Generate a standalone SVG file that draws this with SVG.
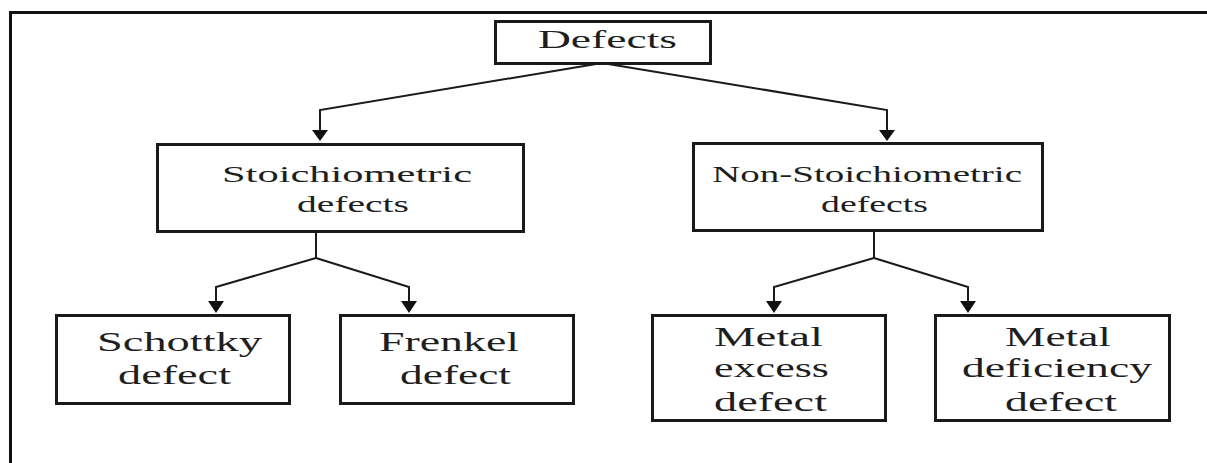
<svg xmlns="http://www.w3.org/2000/svg" width="1207" height="463" viewBox="0 0 1207 463">
<style>
.box{fill:#fff;stroke:#1a1a1a;stroke-width:3}
.conn{fill:none;stroke:#1a1a1a;stroke-width:2}
.head{fill:#111;stroke:none}
text{font-family:"Liberation Serif","Times New Roman",serif;fill:#1e1e1e}
.t26{font-size:26px}
.t24{font-size:24px}
.t27{font-size:27px}
</style>
<rect width="1207" height="463" fill="#fff"/>
<path d="M10.5 463 V12.5 H1207" fill="none" stroke="#111" stroke-width="3"/>
<g id="connectors">
<path class="conn" d="M602 63 L320 110 V131"/>
<path class="conn" d="M602 63 L887 110 V131"/>
<path class="conn" d="M316 231 V258 L216 287 V302"/>
<path class="conn" d="M316 258 L409 287 V302"/>
<path class="conn" d="M874 230 V258 L774 287 V302"/>
<path class="conn" d="M874 258 L968 287 V302"/>
<polygon class="head" points="312,130 328,130 320,141"/>
<polygon class="head" points="879,130 895,130 887,141"/>
<polygon class="head" points="208,301 224,301 216,313"/>
<polygon class="head" points="401,301 417,301 409,313"/>
<polygon class="head" points="766,301 782,301 774,313"/>
<polygon class="head" points="960,301 976,301 968,313"/>
</g>
<g id="defects">
<rect class="box" x="495.5" y="21.5" width="215" height="42"/>
<text class="t26" x="538" y="48" textLength="139" lengthAdjust="spacingAndGlyphs">Defects</text>
</g>
<g id="stoichiometric">
<rect class="box" x="157.5" y="144.5" width="366" height="87"/>
<text class="t24" x="222" y="182" textLength="250" lengthAdjust="spacingAndGlyphs">Stoichiometric</text>
<text class="t24" x="297" y="212" textLength="112" lengthAdjust="spacingAndGlyphs">defects</text>
</g>
<g id="non-stoichiometric">
<rect class="box" x="693.5" y="143.5" width="349" height="87"/>
<text class="t24" x="712" y="182" textLength="310" lengthAdjust="spacingAndGlyphs">Non-Stoichiometric</text>
<text class="t24" x="821" y="212" textLength="107" lengthAdjust="spacingAndGlyphs">defects</text>
</g>
<g id="schottky">
<rect class="box" x="56.5" y="315.5" width="233" height="88"/>
<text class="t27" x="97" y="351" textLength="165" lengthAdjust="spacingAndGlyphs">Schottky</text>
<text class="t27" x="118" y="384" textLength="113" lengthAdjust="spacingAndGlyphs">defect</text>
</g>
<g id="frenkel">
<rect class="box" x="340.5" y="315.5" width="233" height="88"/>
<text class="t27" x="379" y="351" textLength="140" lengthAdjust="spacingAndGlyphs">Frenkel</text>
<text class="t27" x="400" y="384" textLength="111" lengthAdjust="spacingAndGlyphs">defect</text>
</g>
<g id="metal-excess">
<rect class="box" x="652.5" y="315.5" width="233" height="105"/>
<text class="t27" x="714" y="346" textLength="109" lengthAdjust="spacingAndGlyphs">Metal</text>
<text class="t27" x="714" y="377" textLength="115" lengthAdjust="spacingAndGlyphs">excess</text>
<text class="t27" x="714" y="411" textLength="113" lengthAdjust="spacingAndGlyphs">defect</text>
</g>
<g id="metal-deficiency">
<rect class="box" x="935.5" y="315.5" width="234" height="105"/>
<text class="t27" x="1005" y="346" textLength="106" lengthAdjust="spacingAndGlyphs">Metal</text>
<text class="t27" x="962" y="377" textLength="190" lengthAdjust="spacingAndGlyphs">deficiency</text>
<text class="t27" x="1005" y="411" textLength="112" lengthAdjust="spacingAndGlyphs">defect</text>
</g>
</svg>
